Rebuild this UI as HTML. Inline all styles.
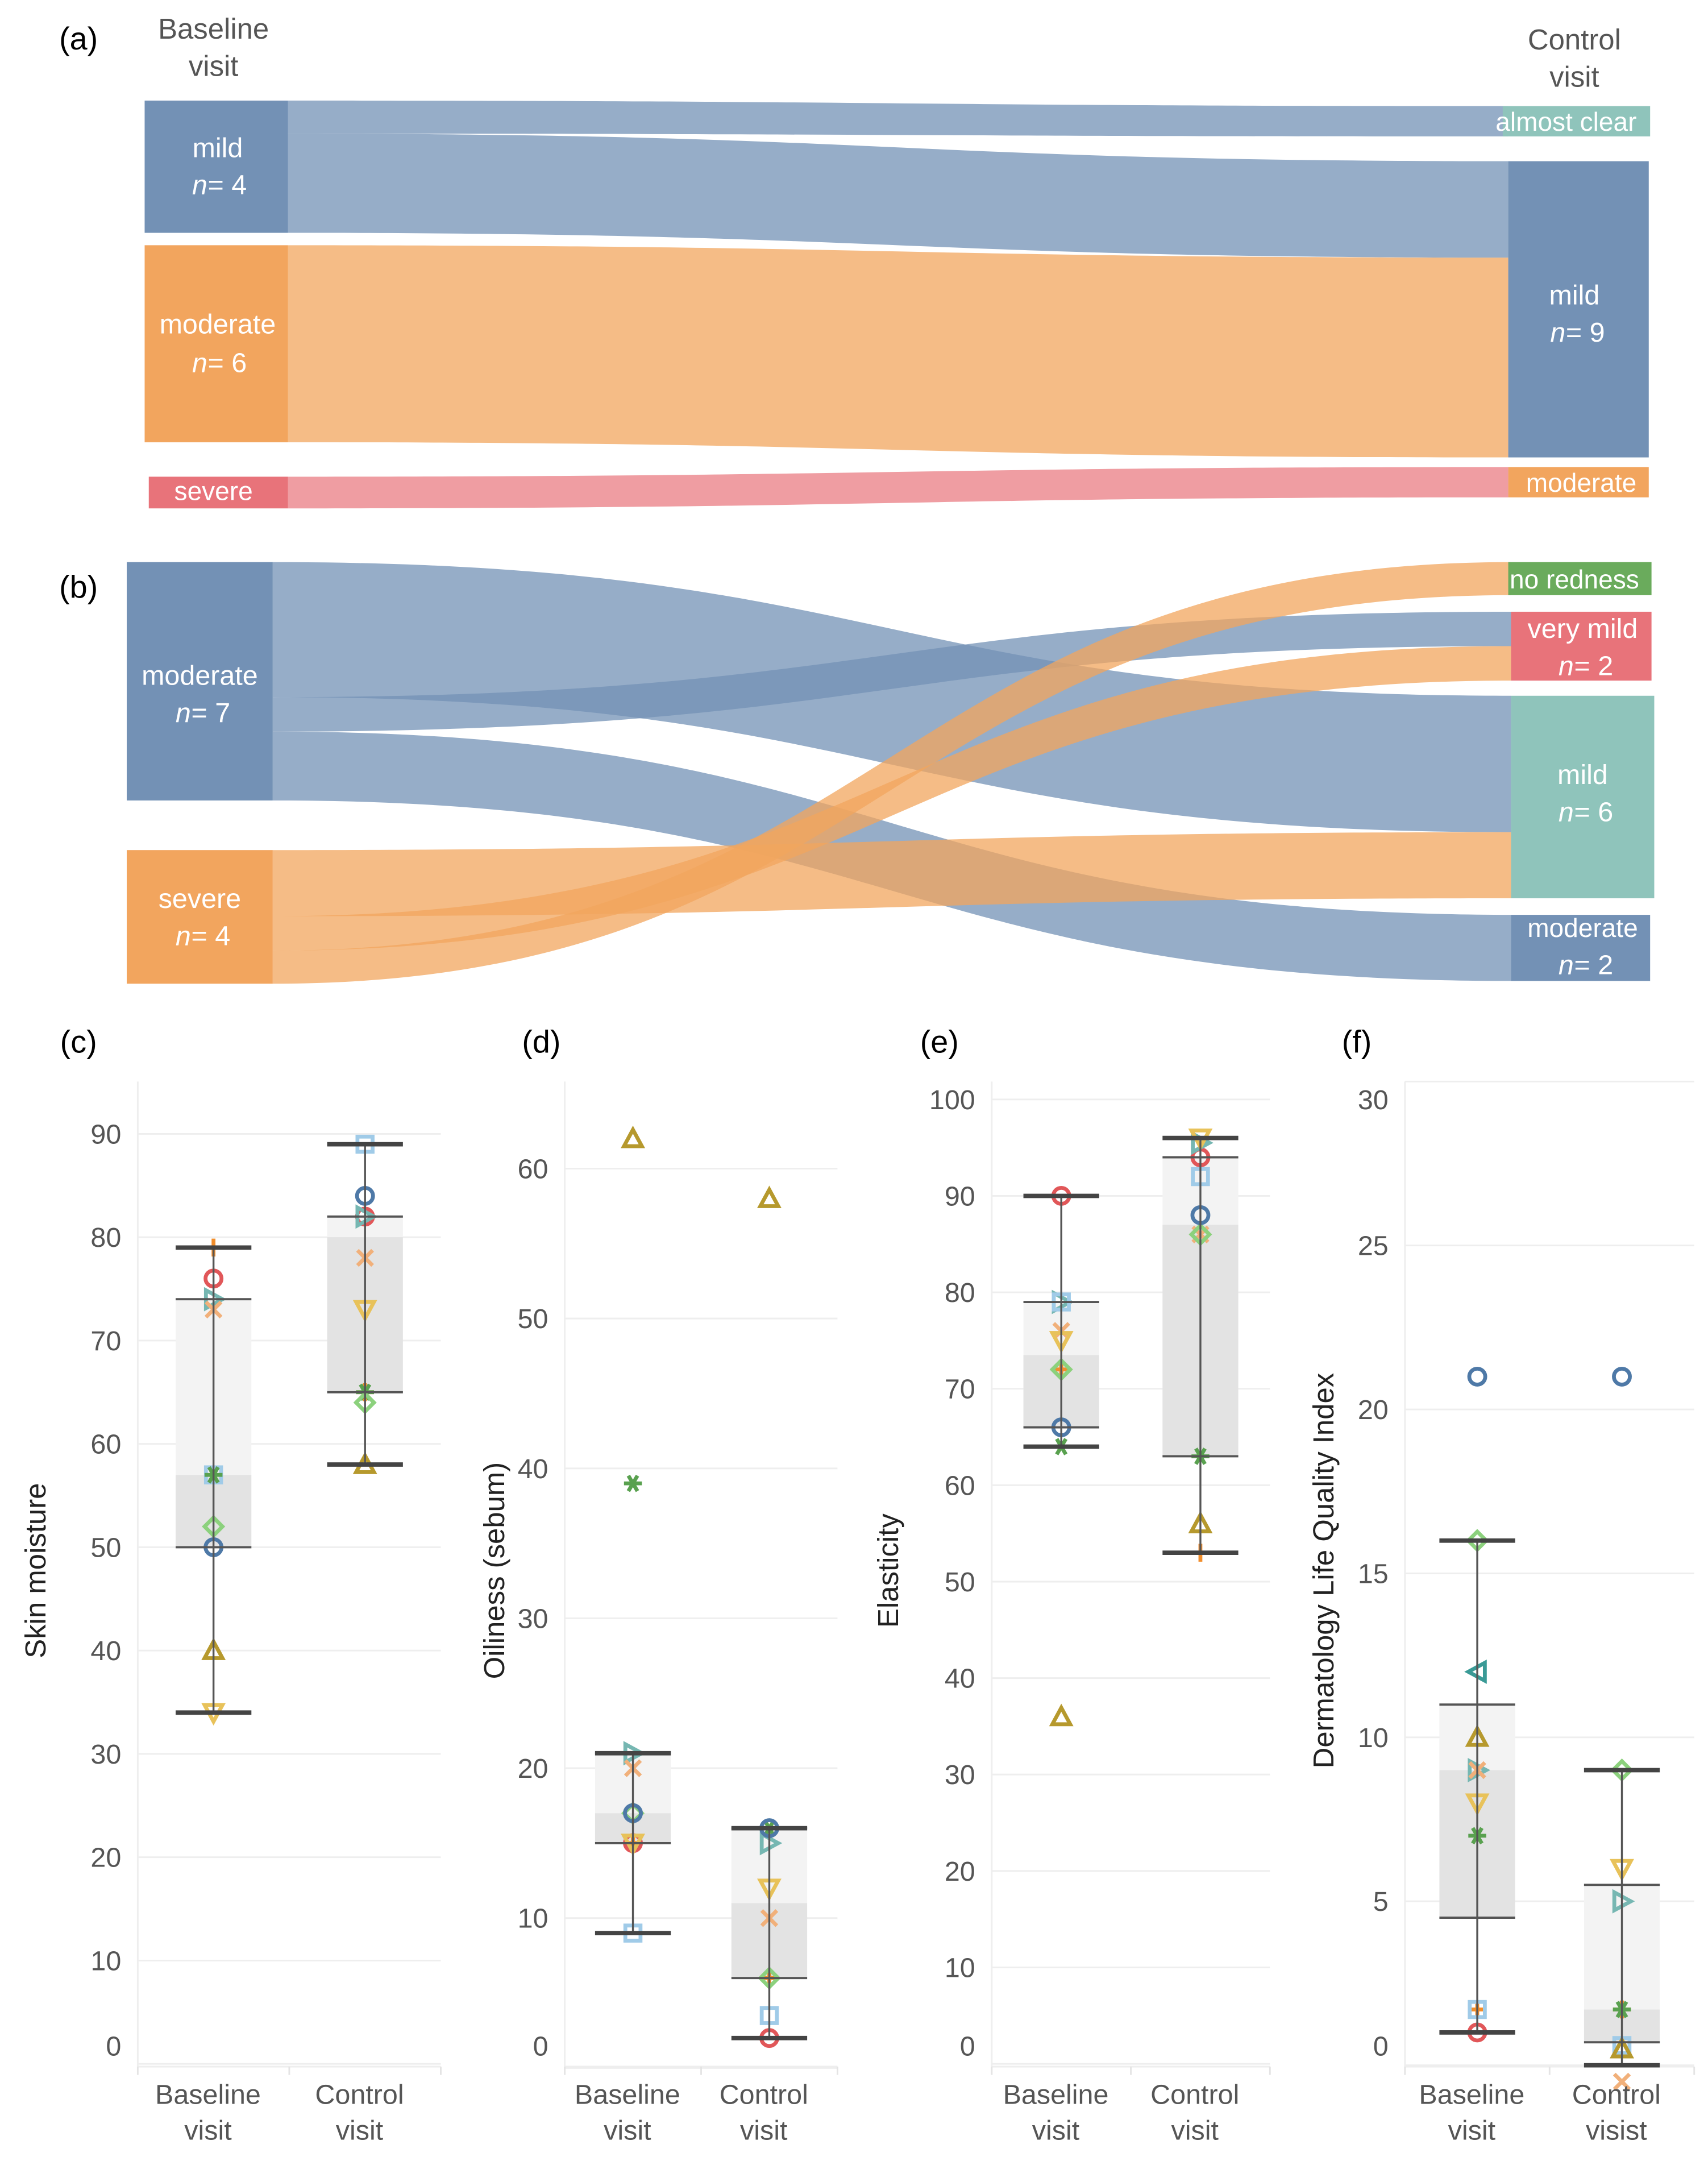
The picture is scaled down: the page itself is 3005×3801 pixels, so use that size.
<!DOCTYPE html>
<html><head><meta charset="utf-8"><style>
html,body{margin:0;padding:0;background:#fff;}
svg{display:block;}
text{font-family:"Liberation Sans",sans-serif;}
</style></head><body>
<svg id="root" width="3005" height="3801" viewBox="0 0 1240 1568.5" xmlns="http://www.w3.org/2000/svg">
<g id="sankeyA"></g>
<g id="sankeyB"></g>
<g id="boxes"></g>
</svg>
<script>
// ---------- Box plot data ----------
const markerKeys = ['plus','circleRed','triRight','x','square','star','diamond','circleBlue','triUp','triDown','triLeft'];
const c_base = [79,76,74,73,57,57,52,50,40,34,null];
const c_ctrl = [65,82,82,78,89,65,64,84,58,73,null];
const d_base = [15,15,21,20,9,39,17,17,62,15,null];
const d_ctrl = [6,2,15,10,3.5,16,6,16,58,12,null];
const e_base = [72,90,79,76,79,64,72,66,36,75,null];
const e_ctrl = [53,94,95.5,86,92,63,86,88,56,96,null];
const f_base = [1.7,1.0,9,9,1.7,7,16,21,10,8,12];
const f_ctrl = [1.7,null,5,-0.5,0.6,1.7,9,21,0.5,6,null];
// box stats: [lowWhisker, q1, median, q3, highWhisker]
const c_stats_base = [34,50,57,74,79];
const c_stats_ctrl = [58,65,80,82,89];
const d_stats_base = [9,15,17,21,21];
const d_stats_ctrl = [2,6,11,16,16];
const e_stats_base = [64,66,73.5,79,90];
const e_stats_ctrl = [53,63,87,94,96];
const f_stats_base = [1.0,4.5,9,11,16];
const f_stats_ctrl = [0,0.7,1.7,5.5,9];
const c_ticks = [0,10,20,30,40,50,60,70,80,90];
const d_ticks = [0,10,20,30,40,50,60];
const e_ticks = [0,10,20,30,40,50,60,70,80,90,100];
const f_ticks = [0,5,10,15,20,25,30];
const categories = ['Baseline visit','Control visit'];

const NS='http://www.w3.org/2000/svg';
function mk(tag,attrs,parent){const e=document.createElementNS(NS,tag);for(const k in attrs)e.setAttribute(k,attrs[k]);if(parent)parent.appendChild(e);return e;}
function txt(parent,x,y,s,size,fill,anchor,extra){const t=mk('text',Object.assign({x:x,y:y,'font-size':size,fill:fill,'text-anchor':anchor||'middle'},extra||{}),parent);t.textContent=s;return t;}

function link(g,x0,t0,b0,x1,t1,b1,color,op,name){
  const xm=(x0+x1)/2;
  const p=mk('path',{d:`M${x0},${t0} C${xm},${t0} ${xm},${t1} ${x1},${t1} L${x1},${b1} C${xm},${b1} ${xm},${b0} ${x0},${b0} Z`,fill:color,'fill-opacity':op},g);
  
  
}
function node(g,x,y,w,h,color,name){
  const r=mk('rect',{x:x,y:y,width:w,height:h,fill:color},g);
  
  
}
function nlabel(g,cx,y,num){
  txt(g,cx-12,y,'n',20,'#fff','middle',{'font-style':'italic'});
  txt(g,cx+8,y,'= '+num,20,'#fff','middle');
}
const BLUE='#7391b5',ORANGE='#f2a55e',RED='#e8737a',TEAL='#8fc4bb',GREEN='#6aab5c';
(function(){
  const g=document.getElementById('sankeyA');
  const L=209,R=1095;
  link(g,L,73,97,R,77,99,BLUE,0.75,'link-mild-almost-clear');
  link(g,L,97,169,R,117,187,BLUE,0.75,'link-mild-mild');
  link(g,L,178,321,R,187,332,ORANGE,0.75,'link-moderate-mild');
  link(g,L,346,369,R,339,361,RED,0.7,'link-severe-moderate');
  node(g,105,73,104,96,BLUE,'node-a-mild');
  node(g,105,178,104,143,ORANGE,'node-a-moderate');
  node(g,108,346,101,23,RED,'node-a-severe');
  node(g,1091,77,107,22,TEAL,'node-a-almost-clear');
  node(g,1095,117,102,215,BLUE,'node-a-mild-right');
  node(g,1095,339,102,22,ORANGE,'node-a-moderate-right');
  txt(g,57,36,'(a)',23,'#000','middle');
  txt(g,155,28,'Baseline',21,'#555');txt(g,155,55,'visit',21,'#555');
  txt(g,1143,36,'Control',21,'#555');txt(g,1143,63,'visit',21,'#555');
  txt(g,158,114,'mild',20,'#fff');nlabel(g,157,141,4);
  txt(g,158,242,'moderate',20,'#fff');nlabel(g,157,270,6);
  txt(g,155,363,'severe',19,'#fff');
  txt(g,1137,95,'almost clear',19,'#fff');
  txt(g,1143,221,'mild',20,'#fff');nlabel(g,1143,248,9);
  txt(g,1148,357,'moderate',19,'#fff');
})();
(function(){
  const g=document.getElementById('sankeyB');
  const L=198,R=1097;
  link(g,L,408,506,R,505,604,BLUE,0.75,'link-moderate-mild');
  link(g,L,506,531,R,444,469,BLUE,0.75,'link-moderate-very-mild');
  link(g,L,531,581,R,664,712,BLUE,0.75,'link-moderate-moderate');
  link(g,L,617,665,R,604,652,ORANGE,0.75,'link-severe-mild');
  link(g,L,665,690,R,469,494,ORANGE,0.75,'link-severe-very-mild');
  link(g,L,690,714,R,408,432,ORANGE,0.75,'link-severe-no-redness');
  node(g,92,408,106,173,BLUE,'node-b-moderate');
  node(g,92,617,106,97,ORANGE,'node-b-severe');
  node(g,1095,408,104,24,GREEN,'node-b-no-redness');
  node(g,1097,444,102,50,RED,'node-b-very-mild');
  node(g,1097,505,104,147,TEAL,'node-b-mild');
  node(g,1097,664,101,48,BLUE,'node-b-moderate-right');
  txt(g,57,434,'(b)',23,'#000');
  txt(g,145,497,'moderate',20,'#fff');nlabel(g,145,524,7);
  txt(g,145,659,'severe',20,'#fff');nlabel(g,145,686,4);
  txt(g,1143,427,'no redness',19,'#fff');
  txt(g,1149,463,'very mild',20,'#fff');nlabel(g,1149,490,2);
  txt(g,1149,569,'mild',20,'#fff');nlabel(g,1149,596,6);
  txt(g,1149,680,'moderate',19,'#fff');nlabel(g,1149,707,2);
})();

const markerColor={plus:'#f28e2b',circleRed:'#e15759',triRight:'#76b7b2',x:'#f1b07a',square:'#a0cbe8',star:'#59a14f',diamond:'#8cd17d',circleBlue:'#4e79a7',triUp:'#b6992d',triDown:'#e8c25a',triLeft:'#3a9a96'};
function marker(g,key,cx,cy){
  const c=markerColor[key],r=5.8;let e;
  const st={fill:'none',stroke:c,'stroke-width':2.8};
  if(key==='circleRed'||key==='circleBlue') e=mk('circle',Object.assign({cx:cx,cy:cy,r:r},st),g);
  else if(key==='square') e=mk('rect',Object.assign({x:cx-5.5,y:cy-5.5,width:11,height:11},st),g);
  else if(key==='diamond') e=mk('path',Object.assign({d:`M${cx},${cy-6.5}L${cx+6.5},${cy}L${cx},${cy+6.5}L${cx-6.5},${cy}Z`},st),g);
  else if(key==='triUp') e=mk('path',Object.assign({d:`M${cx},${cy-6.5}L${cx+6.5},${cy+5.5}L${cx-6.5},${cy+5.5}Z`},st),g);
  else if(key==='triDown') e=mk('path',Object.assign({d:`M${cx},${cy+6.5}L${cx+6.5},${cy-5.5}L${cx-6.5},${cy-5.5}Z`},st),g);
  else if(key==='triRight') e=mk('path',Object.assign({d:`M${cx+6.5},${cy}L${cx-5.5},${cy-6.5}L${cx-5.5},${cy+6.5}Z`},st),g);
  else if(key==='triLeft') e=mk('path',Object.assign({d:`M${cx-6.5},${cy}L${cx+5.5},${cy-6.5}L${cx+5.5},${cy+6.5}Z`},st),g);
  else if(key==='x') e=mk('path',Object.assign({d:`M${cx-5.5},${cy-5.5}L${cx+5.5},${cy+5.5}M${cx+5.5},${cy-5.5}L${cx-5.5},${cy+5.5}`},st),g);
  else if(key==='plus') e=mk('path',Object.assign({d:`M${cx-6.5},${cy}L${cx+6.5},${cy}M${cx},${cy-6.5}L${cx},${cy+6.5}`},st),g);
  else e=mk('path',Object.assign({d:`M${cx-6.5},${cy}L${cx+6.5},${cy}M${cx-3.3},${cy-5.6}L${cx+3.3},${cy+5.6}M${cx+3.3},${cy-5.6}L${cx-3.3},${cy+5.6}`},st),g);
  
  
}
function panel(cfg){
  const g=mk('g',{},document.getElementById('boxes'));
  
  
  const y=v=>cfg.y0-(v-cfg.vmin)*cfg.ppu;
  const top=785,bot=1500;
  cfg.ticks.forEach((t,i)=>{
    const gl=mk('line',{x1:cfg.x0,x2:cfg.x1,y1:y(t),y2:y(t),stroke:'#eeeeee','stroke-width':1.2},g);
    
    
    let ly=y(t)+7;
    if(i===0) ly=1492;
    if(ly<805) ly=805;
    const tl=txt(g,cfg.x0-12,ly,String(t),20,'#555','end');
    
    
  });
  mk('line',{x1:cfg.x0,x2:cfg.x0,y1:top,y2:bot,stroke:'#eeeeee','stroke-width':1.2},g);
  mk('line',{x1:cfg.x0,x2:cfg.x1,y1:bot,y2:bot,stroke:'#eeeeee','stroke-width':1.2},g);
  [cfg.x0,(cfg.x0+cfg.x1)/2,cfg.x1].forEach(x=>mk('line',{x1:x,x2:x,y1:bot,y2:bot+6,stroke:'#e4e4e4','stroke-width':1.2},g));
  const centers=[cfg.x0+(cfg.x1-cfg.x0)*0.25,cfg.x0+(cfg.x1-cfg.x0)*0.75];
  [cfg.sb,cfg.sc].forEach((s,k)=>{
    const cx=centers[k],hw=27.5;
    const bl=mk('rect',{x:cx-hw,y:y(s[3]),width:2*hw,height:y(s[2])-y(s[3]),fill:'#f3f3f3'},g);
    
    
    const bd=mk('rect',{x:cx-hw,y:y(s[2]),width:2*hw,height:y(s[1])-y(s[2]),fill:'#e3e3e3'},g);
    
    
  });
  [cfg.pb,cfg.pc].forEach((arr,k)=>{
    arr.forEach((v,i)=>{ if(v!==null) marker(g,markerKeys[i],centers[k],y(v)); });
  });
  [cfg.sb,cfg.sc].forEach((s,k)=>{
    const cx=centers[k],hw=27.5;
    const w=mk('line',{x1:cx,x2:cx,y1:y(s[0]),y2:y(s[4]),stroke:'#555','stroke-width':1.4},g);
    
    
    [s[1],s[3]].forEach(v=>mk('line',{x1:cx-hw,x2:cx+hw,y1:y(v),y2:y(v),stroke:'#555','stroke-width':1.6},g));
    [s[0],s[4]].forEach(v=>mk('line',{x1:cx-hw,x2:cx+hw,y1:y(v),y2:y(v),stroke:'#444','stroke-width':3.2},g));
  });
  categories.forEach((c,k)=>{
    const parts=c.split(' ');
    let second=parts[1];
    if(cfg.id==='f'&&k===1) second='visist';
    const t1=txt(g,centers[k]-4,1527,parts[0],20,'#555');
    
    
    txt(g,centers[k]-4,1553,second,20,'#555');
  });
  txt(g,cfg.labx,764,'('+cfg.id+')',23,'#000');
  const yt=txt(g,0,0,cfg.title,21,'#222','middle',{transform:`translate(${cfg.tx},${cfg.ty}) rotate(-90)`});
  
  
}
panel({id:'c',x0:100,x1:320,y0:1498,vmin:0,ppu:7.5,ticks:c_ticks,sb:c_stats_base,sc:c_stats_ctrl,pb:c_base,pc:c_ctrl,labx:57,title:'Skin moisture',tx:33,ty:1140});
panel({id:'d',x0:410,x1:608,y0:1501,vmin:0,ppu:10.88,ticks:d_ticks,sb:d_stats_base,sc:d_stats_ctrl,pb:d_base,pc:d_ctrl,labx:393,title:'Oiliness (sebum)',tx:366,ty:1140});
panel({id:'e',x0:720,x1:922,y0:1498,vmin:0,ppu:7.0,ticks:e_ticks,sb:e_stats_base,sc:e_stats_ctrl,pb:e_base,pc:e_ctrl,labx:682,title:'Elasticity',tx:652,ty:1140});
panel({id:'f',x0:1020,x1:1230,y0:1499,vmin:0,ppu:23.8,ticks:f_ticks,sb:f_stats_base,sc:f_stats_ctrl,pb:f_base,pc:f_ctrl,labx:985,title:'Dermatology Life Quality Index',tx:968,ty:1140});
</script>
</body></html>
